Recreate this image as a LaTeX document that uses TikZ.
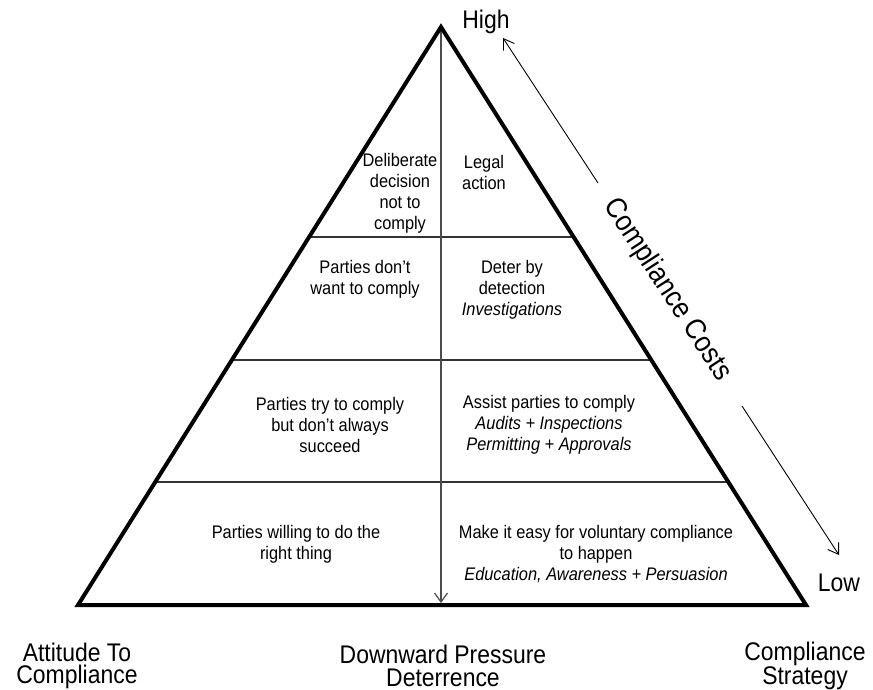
\documentclass[tikz,border=0pt]{standalone}
\usepackage{fontspec}
\setmainfont{Liberation Sans}[FakeStretch=0.9]
\usetikzlibrary{arrows.meta,calc}
\begin{document}
\begin{tikzpicture}[x=1pt,y=-1pt,
  edge/.style={line width=4pt, line join=miter},
  divider/.style={line width=1.8pt, draw=black!80},
  axisline/.style={line width=1.3pt, draw=black!70, -{Straight Barb[length=9pt,width=13pt,line width=1.2pt]}},
  costarrow/.style={line width=0.9pt, -{Straight Barb[length=10pt,width=13pt,line width=0.9pt]}},
  cell/.style={font=\fontsize{18.2}{21}\selectfont, align=center, inner sep=0pt},
  big/.style={font=\fontsize{25.5}{22.5}\selectfont, align=center, inner sep=0pt},
  diag/.style={font=\fontsize{29}{30}\selectfont, inner sep=0pt}]
\useasboundingbox (0,0) rectangle (873,690);
% corners
\coordinate (apex) at (441,27);
\coordinate (L) at (78,605);
\coordinate (R) at (806,605);
\coordinate (bot) at (441,603);
% dividers
\coordinate (d1l) at ($(apex)!0.3633!(L)$);
\coordinate (d1r) at ($(apex)!0.3633!(R)$);
\coordinate (d2l) at ($(apex)!0.5761!(L)$);
\coordinate (d2r) at ($(apex)!0.5761!(R)$);
\coordinate (d3l) at ($(apex)!0.7872!(L)$);
\coordinate (d3r) at ($(apex)!0.7872!(R)$);
\draw[divider] (d1l) -- (d1r);
\draw[divider] (d2l) -- (d2r);
\draw[divider] (d3l) -- (d3r);
\draw[axisline] (apex) -- (bot);
\draw[edge] (apex) -- (L) -- (R) -- cycle;
% cost arrows
\coordinate (cu1) at (598,183);
\coordinate (cu2) at (503,38);
\coordinate (cl1) at (742,406);
\coordinate (cl2) at (839,555);
\draw[costarrow] (cu1) -- (cu2);
\draw[costarrow] (cl1) -- (cl2);
\node[diag, rotate=-57] (costs) at (667,290) {Compliance Costs};
\node[big, anchor=base] (high) at (486,29) {High};
\node[big, anchor=base] (low) at (839,591) {Low};
% cells
\node[cell] (c1l) at (400,193.5) {Deliberate\\decision\\not to\\comply};
\node[cell] (c1r) at (484,172.5) {Legal\\action};
\node[cell] (c2l) at (365,279.5) {Parties don't\\want to comply};
\node[cell] (c2r) at (512,290) {Deter by\\detection\\\textit{Investigations}};
\node[cell] (c3l) at (330,424.5) {Parties try to comply\\but don't always\\succeed};
\node[cell] (c3r) at (549,424.5) {Assist parties to comply\\\textit{Audits + Inspections}\\\textit{Permitting + Approvals}};
\node[cell] (c4l) at (296,544) {Parties willing to do the\\right thing};
\node[cell] (c4r) at (596,554.5) {Make it easy for voluntary compliance\\to happen\\\textit{Education, Awareness + Persuasion}};
% bottom labels
\node[big] (att) at (77,666) {Attitude To\\Compliance};
\node[big] (dp) at (443,666) {Downward Pressure\\Deterrence};
\node[big] (cs) at (805,666) {Compliance\\Strategy};
\end{tikzpicture}
\end{document}
